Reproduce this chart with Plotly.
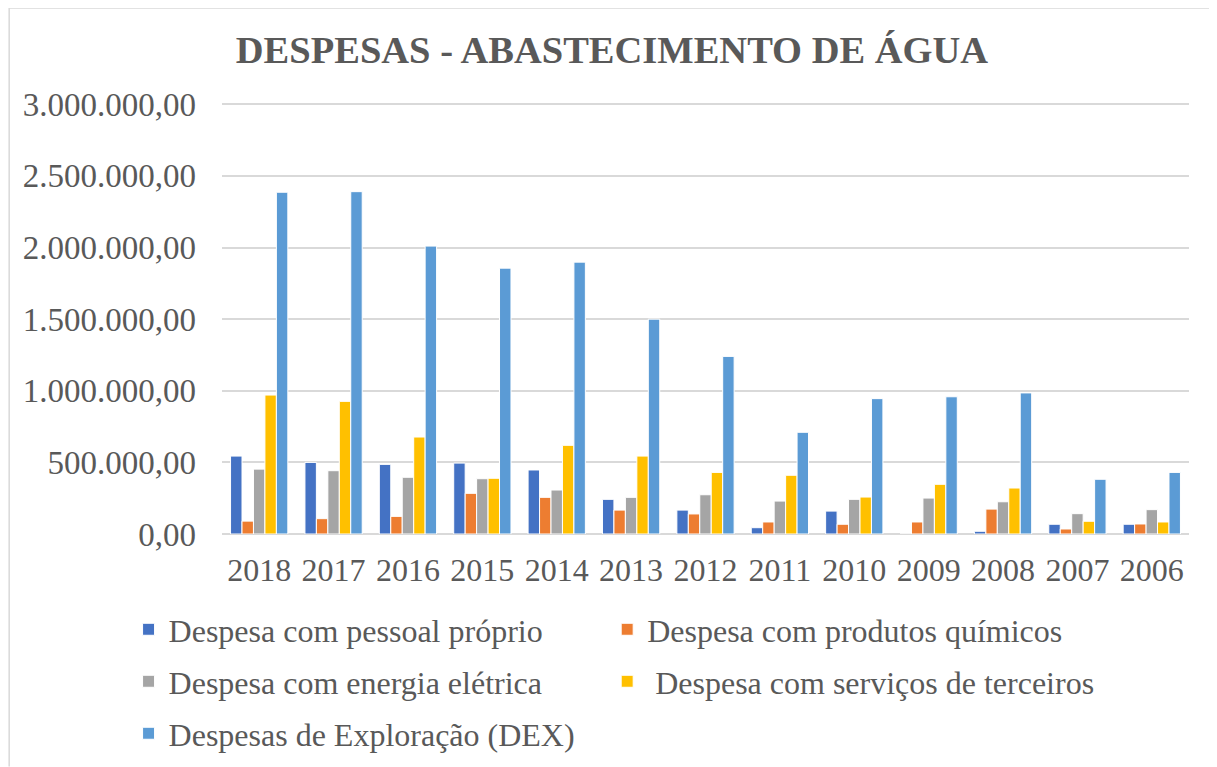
import plotly.graph_objects as go

years = ["2018", "2017", "2016", "2015", "2014", "2013", "2012", "2011", "2010", "2009", "2008", "2007", "2006"]

pessoal = [544000, 500000, 486000, 495000, 447000, 242000, 167000, 44000, 160000, 0, 19000, 68000, 68000]
quimicos = [90000, 107000, 123000, 284000, 256000, 167000, 140000, 84000, 68000, 84000, 174000, 35000, 70000]
energia = [453000, 442000, 396000, 386000, 307000, 256000, 274000, 230000, 242000, 251000, 225000, 142000, 170000]
terceiros = [970000, 926000, 677000, 389000, 619000, 544000, 430000, 410000, 258000, 347000, 321000, 89000, 84000]
dex = [2386000, 2390000, 2010000, 1856000, 1898000, 1500000, 1240000, 710000, 945000, 958000, 985000, 382000, 430000]

series_names = [
    "Despesa com pessoal próprio",
    "Despesa com produtos químicos",
    "Despesa com energia elétrica",
    " Despesa com serviços de terceiros",
    "Despesas de Exploração (DEX)",
]
series_values = [pessoal, quimicos, energia, terceiros, dex]
colors = ["#4472C4", "#ED7D31", "#A5A5A5", "#FFC000", "#5B9BD5"]
legend_ids = ["legend", "legend2", "legend3", "legend4", "legend5"]
# legend item positions (screen px): legend left x, row centre y
legend_pos = [(128, 630), (607, 630), (128, 682), (607, 682), (128, 734)]

FONT = "Liberation Serif, Times New Roman, serif"
GRAY = "#595959"

YMAX = 3009000
OFF = 8  # page body margin in the browser
W, H = 1217 - OFF, 767 - OFF
Bb_s = 534.5
T_s = Bb_s - 429.8 * YMAX / 3000000
L, T = 221.5 - OFF, T_s - OFF
Rr, Bb = 1189.3 - OFF, Bb_s - OFF
R, B = W - Rr, H - Bb
pw, ph = Rr - L, Bb - T

def px_x(p):
    return (p - OFF - L) / pw

def px_y(p):
    return (Bb - (p - OFF)) / ph

fig = go.Figure()
for name, vals, col, lg in zip(series_names, series_values, colors, legend_ids):
    fig.add_trace(go.Bar(
        x=years, y=vals, name=name,
        marker=dict(color=col, line=dict(color="white", width=1)),
        legend=lg, showlegend=True,
    ))

legends = {}
for lg, (lx, ly) in zip(legend_ids, legend_pos):
    legends[lg] = dict(
        orientation="h",
        font=dict(family=FONT, size=32, color=GRAY),
        bgcolor="rgba(0,0,0,0)",
        x=px_x(lx), y=px_y(ly),
        xanchor="left", yanchor="middle",
        itemclick=False,
    )

fig.update_layout(
    width=W, height=H,
    margin=dict(l=L, r=R, t=T, b=B, autoexpand=False),
    paper_bgcolor="white",
    plot_bgcolor="white",
    showlegend=True,
    separators=",.",
    barmode="group",
    bargap=0.23,
    bargroupgap=0,
    title=dict(
        text="<b>DESPESAS - ABASTECIMENTO DE ÁGUA</b>",
        font=dict(family=FONT, size=38.5, color=GRAY),
        x=(612 - OFF) / W, xanchor="center", xref="container",
        y=1 - (50 - OFF) / H, yanchor="middle", yref="container",
    ),
    xaxis=dict(
        tickfont=dict(family=FONT, size=32, color=GRAY),
        showgrid=False, showline=False, ticks="",
        ticklabelstandoff=14,
    ),
    yaxis=dict(
        range=[0, YMAX],
        tickvals=[0, 500000, 1000000, 1500000, 2000000, 2500000, 3000000],
        tickformat=",.2f",
        tickfont=dict(family=FONT, size=33, color=GRAY),
        gridcolor="#D9D9D9", gridwidth=1.5,
        zeroline=True, zerolinecolor="#D9D9D9", zerolinewidth=2,
        showline=False, ticks="",
        ticklabelstandoff=25,
    ),
    shapes=[
        dict(type="line", xref="paper", yref="paper",
             x0=px_x(8.5), x1=px_x(1217), y0=px_y(8.5), y1=px_y(8.5),
             line=dict(color="#D9D9D9", width=1.5), layer="below"),
        dict(type="line", xref="paper", yref="paper",
             x0=px_x(8.5), x1=px_x(8.5), y0=px_y(8.5), y1=px_y(767),
             line=dict(color="#D9D9D9", width=1.5), layer="below"),
    ],
    **legends,
)

fig.write_html("out.html")
